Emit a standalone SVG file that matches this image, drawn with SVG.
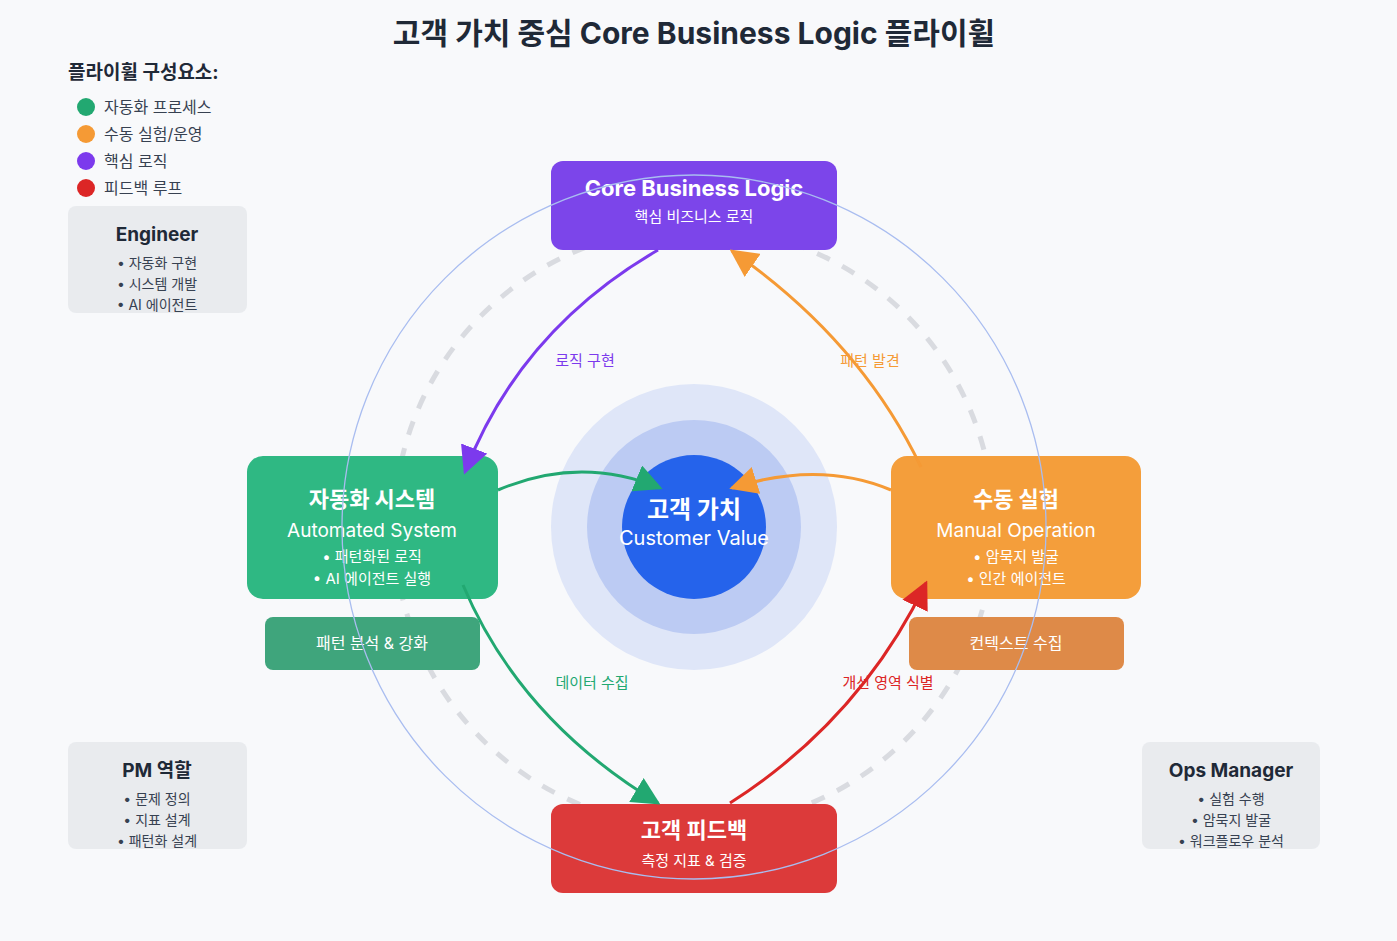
<svg xmlns="http://www.w3.org/2000/svg" width="1397" height="941" viewBox="0 0 1397 941">
<defs>
<style>
text{font-family:Inter,"Noto Sans CJK KR",sans-serif;text-anchor:middle}
.w{fill:#fff}
.t{font-weight:700;font-size:22px}
.s{font-size:16px}
.b{font-size:15px}
.rb{fill:#e5e7eb;opacity:.8}
.rt{font-weight:700;font-size:19px;fill:#1f2937}
.ri{font-size:14px;fill:#374151}
.lg{font-size:16px;fill:#374151;text-anchor:start}
.lab{font-size:15px}
</style>
<marker id="mp" viewBox="0 0 10 10" refX="9" refY="5" markerWidth="7" markerHeight="7" orient="auto-start-reverse" markerUnits="userSpaceOnUse"><path d="M0,0L10,5L0,10z" fill="#7c3aed"/></marker>
<marker id="mo" viewBox="0 0 10 10" refX="9" refY="5" markerWidth="28" markerHeight="28" orient="auto" markerUnits="userSpaceOnUse"><path d="M0,0L10,5L0,10z" fill="#f59a35"/></marker>
<marker id="mpu" viewBox="0 0 10 10" refX="9" refY="5" markerWidth="28" markerHeight="28" orient="auto" markerUnits="userSpaceOnUse"><path d="M0,0L10,5L0,10z" fill="#7c3aed"/></marker>
<marker id="mg" viewBox="0 0 10 10" refX="9" refY="5" markerWidth="28" markerHeight="28" orient="auto" markerUnits="userSpaceOnUse"><path d="M0,0L10,5L0,10z" fill="#22a871"/></marker>
<marker id="mr" viewBox="0 0 10 10" refX="9" refY="5" markerWidth="28" markerHeight="28" orient="auto" markerUnits="userSpaceOnUse"><path d="M0,0L10,5L0,10z" fill="#dc2626"/></marker>
</defs>
<rect width="1397" height="941" fill="#f8f9fb"/>
<text x="694" y="44" style="font-size:30px;font-weight:700;fill:#1f2937">고객 가치 중심 Core Business Logic 플라이휠</text>

<g id="legend">
<text x="68" y="79" style="font-size:19px;font-weight:700;fill:#1f2937;text-anchor:start">플라이휠 구성요소:</text>
<circle cx="86" cy="107" r="9" fill="#22a871"/><text x="104" y="113" class="lg">자동화 프로세스</text>
<circle cx="86" cy="134" r="9" fill="#f59a35"/><text x="104" y="140" class="lg">수동 실험/운영</text>
<circle cx="86" cy="161" r="9" fill="#7c3aed"/><text x="104" y="167" class="lg">핵심 로직</text>
<circle cx="86" cy="188" r="9" fill="#dc2626"/><text x="104" y="194" class="lg">피드백 루프</text>
</g>

<circle cx="694" cy="527" r="300" fill="none" stroke="#d9dbe0" stroke-width="5" stroke-dasharray="14 14"/>

<g id="center">
<circle cx="694" cy="527" r="143" fill="#dfe6f8"/>
<circle cx="694" cy="527" r="107" fill="#bccbf3"/>
<circle cx="694" cy="527" r="72" fill="#2563eb"/>
<text x="694" y="518" class="w" style="font-size:24px;font-weight:700">고객 가치</text>
<text x="694" y="545" class="w" style="font-size:20px">Customer Value</text>
</g>

<g id="core">
<rect x="551" y="161" width="286" height="89" rx="12" fill="#7c45ea"/>
<text x="694" y="196" class="w t">Core Business Logic</text>
<text x="694" y="222" class="w b">핵심 비즈니스 로직</text>
</g>

<g id="auto">
<rect x="247" y="456" width="251" height="143" rx="16" fill="#2fb883"/>
<text x="372" y="507" class="w t">자동화 시스템</text>
<text x="372" y="537" class="w" style="font-size:19px">Automated System</text>
<text x="372" y="562" class="w b">• 패턴화된 로직</text>
<text x="372" y="584" class="w b">• AI 에이전트 실행</text>
</g>
<g id="pattern">
<rect x="265" y="617" width="215" height="53" rx="8" fill="#3fa57c"/>
<text x="372" y="649" class="w s">패턴 분석 &amp; 강화</text>
</g>

<g id="manual">
<rect x="891" y="456" width="250" height="143" rx="16" fill="#f49e3b"/>
<text x="1016" y="507" class="w t">수동 실험</text>
<text x="1016" y="537" class="w" style="font-size:19px">Manual Operation</text>
<text x="1016" y="562" class="w b">• 암묵지 발굴</text>
<text x="1016" y="584" class="w b">• 인간 에이전트</text>
</g>
<g id="context">
<rect x="909" y="617" width="215" height="53" rx="8" fill="#de8a48"/>
<text x="1016" y="649" class="w s">컨텍스트 수집</text>
</g>

<g id="feedback">
<rect x="551" y="804" width="286" height="89" rx="12" fill="#dc3a3a"/>
<text x="694" y="838" class="w t">고객 피드백</text>
<text x="694" y="866" class="w b">측정 지표 &amp; 검증</text>
</g>

<g id="connectors" fill="none" stroke-width="3">
<path d="M658,250 Q520,330 465,472" stroke="#7c3aed" marker-end="url(#mpu)"/>
<path d="M921,467 Q860,340 732,251" stroke="#f59a35" marker-end="url(#mo)"/>
<path d="M498,490 Q580,455 660,488" stroke="#22a871" marker-end="url(#mg)"/>
<path d="M891,490 Q820,460 732,488" stroke="#f59a35" marker-end="url(#mo)"/>
<path d="M463,585 Q520,720 658,803" stroke="#22a871" marker-end="url(#mg)"/>
<path d="M730,803 Q860,720 926,583" stroke="#dc2626" marker-end="url(#mr)"/>
</g>
<g id="labels">
<text x="585" y="366" class="lab" fill="#7c3aed">로직 구현</text>
<text x="870" y="366" class="lab" fill="#f59a35">패턴 발견</text>
<text x="592" y="688" class="lab" fill="#22a871">데이터 수집</text>
<text x="888" y="688" class="lab" fill="#dc2626">개선 영역 식별</text>
</g>

<circle cx="694" cy="527" r="352" fill="none" stroke="#a9bdf0" stroke-width="1.3"/>

<g id="engineer">
<rect x="68" y="206" width="179" height="107" rx="8" class="rb"/>
<text x="157" y="241" class="rt">Engineer</text>
<text x="157" y="268" class="ri">• 자동화 구현</text>
<text x="157" y="289" class="ri">• 시스템 개발</text>
<text x="157" y="310" class="ri">• AI 에이전트</text>
</g>
<g id="pm">
<rect x="68" y="742" width="179" height="107" rx="8" class="rb"/>
<text x="157" y="777" class="rt">PM 역할</text>
<text x="157" y="804" class="ri">• 문제 정의</text>
<text x="157" y="825" class="ri">• 지표 설계</text>
<text x="157" y="846" class="ri">• 패턴화 설계</text>
</g>
<g id="ops">
<rect x="1142" y="742" width="178" height="107" rx="8" class="rb"/>
<text x="1231" y="777" class="rt">Ops Manager</text>
<text x="1231" y="804" class="ri">• 실험 수행</text>
<text x="1231" y="825" class="ri">• 암묵지 발굴</text>
<text x="1231" y="846" class="ri">• 워크플로우 분석</text>
</g>
</svg>
